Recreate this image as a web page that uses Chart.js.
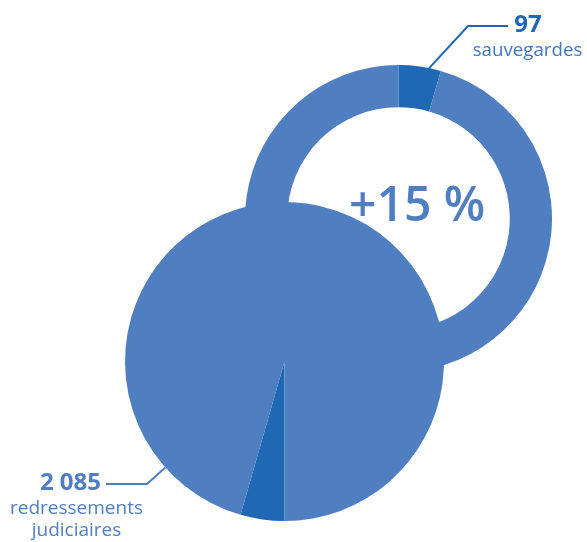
<!DOCTYPE html>
<html lang="fr">
<head>
<meta charset="utf-8">
<script src="https://cdn.jsdelivr.net/npm/chart.js@4"></script>
<style>
  html, body { margin: 0; padding: 0; background: #fff; }
  #wrap { position: relative; width: 587px; height: 542px; overflow: hidden; font-family: 'Open Sans', sans-serif; }
  #wrap canvas { position: absolute; left: 0; top: 0; }
  .lbl { position: absolute; white-space: nowrap; line-height: 1; }
  .c { transform: translateX(-50%); }
  .r { transform: translateX(-100%); }
</style>
</head>
<body>
<div id="wrap">
  <canvas id="ringChart" width="587" height="542"></canvas>
  <canvas id="pieChart" width="587" height="542"></canvas>
  <div id="nSauv" class="lbl c" style="left:528px;top:10.7px;font-size:24px;font-weight:700;color:#1e68b4"></div>
  <div id="tSauv" class="lbl c" style="left:527.5px;top:40.4px;font-size:18.7px;color:#3f78bf"></div>
  <div id="growth" class="lbl" style="left:349px;top:179.4px;font-size:48px;font-weight:600;color:#4f7ec1"></div>
  <div id="nRedr" class="lbl r" style="left:101px;top:468.7px;font-size:24px;font-weight:700;color:#4f7ec1"></div>
  <div id="tRedr1" class="lbl c" style="left:76.5px;top:498px;font-size:19px;color:#4f7ec1"></div>
  <div id="tRedr2" class="lbl c" style="left:76.5px;top:520px;font-size:19px;color:#4f7ec1"></div>
</div>
<script>
/* Procédures ouvertes : sauvegardes vs redressements judiciaires */
const CASES       = [97, 2085];
const CASE_LABELS = ['sauvegardes', 'redressements judiciaires'];
const GROWTH      = '+15 %';

const DARK  = '#1e68b4';
const LIGHT = '#4f7ec1';

const fmtNum = v => String(v).replace(/\B(?=(\d{3})+(?!\d))/g, ' ');

document.getElementById('nSauv').textContent  = fmtNum(CASES[0]);
document.getElementById('tSauv').textContent  = CASE_LABELS[0];
document.getElementById('growth').textContent = GROWTH;
document.getElementById('nRedr').textContent  = fmtNum(CASES[1]);
document.getElementById('tRedr1').textContent = CASE_LABELS[1].split(' ')[0];
document.getElementById('tRedr2').textContent = CASE_LABELS[1].split(' ')[1];

// Trait de rappel : part du bord extérieur d'un secteur puis suit les points donnés
const leaderLine = {
  id: 'leader',
  afterDatasetsDraw(chart, args, opts) {
    const arc = chart.getDatasetMeta(0).data[opts.index];
    if (!arc) return;
    const a = arc.startAngle + opts.frac * (arc.endAngle - arc.startAngle);
    const ctx = chart.ctx;
    ctx.save();
    ctx.strokeStyle = opts.color;
    ctx.lineWidth = 2;
    ctx.beginPath();
    ctx.moveTo(arc.x + arc.outerRadius * Math.cos(a), arc.y + arc.outerRadius * Math.sin(a));
    opts.points.forEach(p => ctx.lineTo(p[0], p[1]));
    ctx.stroke();
    ctx.restore();
  },
};

const baseOpts = {
  responsive: false,
  animation: false,
  events: [],
  plugins: { legend: { display: false }, tooltip: { enabled: false } },
};

function dataset() {
  return [{
    data: CASES,
    backgroundColor: [DARK, LIGHT],
    borderWidth: 0,
    hoverOffset: 0,
    offset: 0,
  }];
}

// Anneau (en haut à droite)
new Chart(document.getElementById('ringChart'), {
  type: 'doughnut',
  data: { labels: CASE_LABELS, datasets: dataset() },
  options: {
    ...baseOpts,
    cutout: '72.5%',
    rotation: 0,
    layout: { padding: { left: 245, top: 65, right: 35, bottom: 170 } },
    plugins: {
      ...baseOpts.plugins,
      leader: { index: 0, frac: 0.72, color: DARK, points: [[468, 26], [508, 26]] },
    },
  },
  plugins: [leaderLine],
});

// Camembert (en bas à gauche), par-dessus l'anneau
new Chart(document.getElementById('pieChart'), {
  type: 'pie',
  data: { labels: CASE_LABELS, datasets: dataset() },
  options: {
    ...baseOpts,
    rotation: 180,
    layout: { padding: { left: 125, top: 202, right: 143, bottom: 21 } },
    plugins: {
      ...baseOpts.plugins,
      leader: { index: 1, frac: 0.094, color: LIGHT, points: [[147, 484], [106, 484]] },
    },
  },
  plugins: [leaderLine],
});
</script>
</body>
</html>
